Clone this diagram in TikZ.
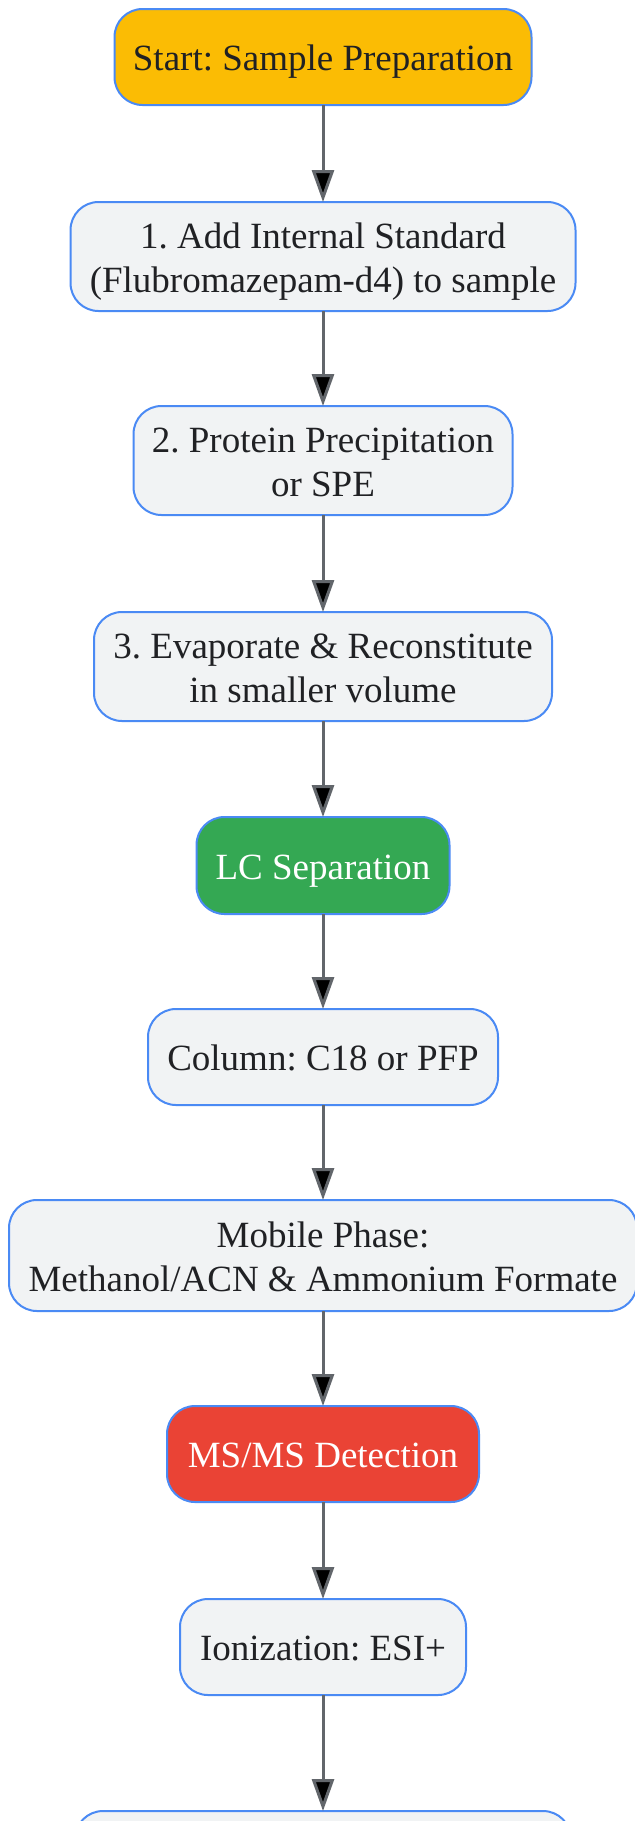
\documentclass[tikz,border=0pt]{standalone}
\usepackage{fontspec}
\setmainfont{Liberation Serif}
\frenchspacing
\usetikzlibrary{arrows.meta}
\definecolor{boxblue}{HTML}{4A8AF4}
\definecolor{boxgrey}{HTML}{F1F3F4}
\definecolor{startyellow}{HTML}{FBBC04}
\definecolor{lcgreen}{HTML}{34A853}
\definecolor{msred}{HTML}{EA4335}
\definecolor{textdark}{HTML}{202124}
\definecolor{arrowgrey}{HTML}{62666B}
\begin{document}
\begin{tikzpicture}[x=0.5pt,y=-0.5pt]
        \tikzstyle{stepbox}=[rectangle,rounded corners=14pt,draw=boxblue,line width=1pt,fill=boxgrey,
                text=textdark,align=center,outer sep=0pt,inner sep=0pt,
                text height=14.6pt,text depth=1pt,
                font=\fontsize{18.5}{22}\selectfont]
        \tikzstyle{twolines}=[text height=36.6pt,text depth=1pt]
        \tikzstyle{startbox}=[stepbox,fill=startyellow]
        \tikzstyle{lcbox}=[stepbox,fill=lcgreen,text=white]
        \tikzstyle{msbox}=[stepbox,fill=msred,text=white]
        \tikzstyle{edge}=[draw=arrowgrey,line width=1.5pt,-{Triangle[length=16pt,width=11pt]}]
       \useasboundingbox (0,0) rectangle (635,1821);
       \clip (0,0) rectangle (635,1821);
       \fill[white] (0,0) rectangle (635,1821);
       \begin{scope}
         \node [startbox,minimum width=208.5pt,minimum height=48pt] (start) at (323,57) {Start: Sample Preparation};
         \node [stepbox,twolines,minimum width=252.5pt,minimum height=54.5pt] (istd) at (323,256.5) {1. Add Internal Standard\\(Flubromazepam-d4) to sample};
         \node [stepbox,twolines,minimum width=189.5pt,minimum height=54.5pt] (precip) at (323,460.5) {2. Protein Precipitation\\or SPE};
         \node [stepbox,twolines,minimum width=229pt,minimum height=54.5pt] (evap) at (323,666.5) {3. Evaporate \& Reconstitute\\in smaller volume};
         \node [lcbox,minimum width=126.5pt,minimum height=48.5pt] (lc) at (323,865.5) {LC Separation};
         \node [stepbox,minimum width=175pt,minimum height=48pt] (column) at (323,1057) {Column: C18 or PFP};
         \node [stepbox,twolines,minimum width=314pt,minimum height=55.5pt] (mobile) at (323,1255.5) {Mobile Phase:\\Methanol/ACN \& Ammonium Formate};
         \node [msbox,minimum width=156pt,minimum height=48pt] (ms) at (323,1454) {MS/MS Detection};
         \node [stepbox,minimum width=143pt,minimum height=48pt] (ion) at (323,1647) {Ionization: ESI+};
         \node [stepbox,minimum width=248pt,minimum height=48pt] (next) at (323,1859) {};
         \path[edge] (start) edge (istd);
         \path[edge] (istd) edge (precip);
         \path[edge] (precip) edge (evap);
         \path[edge] (evap) edge (lc);
         \path[edge] (lc) edge (column);
         \path[edge] (column) edge (mobile);
         \path[edge] (mobile) edge (ms);
         \path[edge] (ms) edge (ion);
         \path[edge] (ion) edge (next);
        \end{scope}
      \end{tikzpicture}
\end{document}
